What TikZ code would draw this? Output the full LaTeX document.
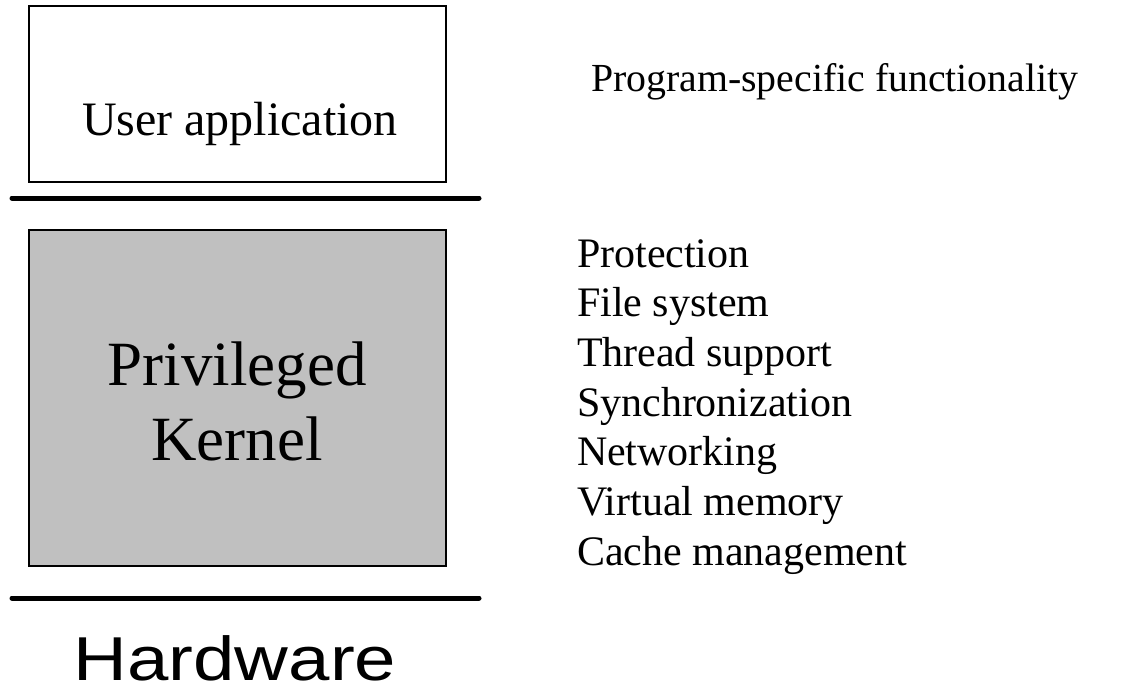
\documentclass[tikz,border=0pt]{standalone}
\usepackage{fontspec}
\setmainfont{Liberation Serif}
\newfontfamily\hwfont{Liberation Sans}
\begin{document}
\begin{tikzpicture}[x=1pt,y=-1pt,
  layerbox/.style={draw=black,line width=1.6pt,inner sep=0pt,outer sep=0pt},
  divider/.style={line width=5pt,line cap=round},
  caption/.style={inner sep=0pt,outer sep=0pt,anchor=base},
  label/.style={inner sep=0pt,outer sep=0pt,anchor=base west,font=\fontsize{42}{49.7}\selectfont}]
  \useasboundingbox (0,0) rectangle (1122,688);

  % layers
  \node[layerbox,fill=white,minimum width=417pt,minimum height=176pt] (user) at (237.5,94) {};
  \node[layerbox,fill={rgb,255:red,192;green,192;blue,192},minimum width=417pt,minimum height=336pt] (kernel) at (237.5,398) {};

  \node[caption,font=\fontsize{48}{50}\selectfont] (usertxt) at (240,135) {User application};
  \node[caption,font=\fontsize{63}{75}\selectfont] (priv) at (237,385) {Privileged};
  \node[caption,font=\fontsize{63}{75}\selectfont] (kern) at (237,460) {Kernel};

  % protection boundaries
  \draw[divider] (12,198) -- (479,198);
  \draw[divider] (12,598) -- (479,598);

  % "Hardware" has no descenders, so its box ends at the baseline
  \node[caption,text depth=0pt,font=\hwfont\fontsize{62}{70}\selectfont,xscale=1.2] (hw) at (235,680) {Hardware};

  % descriptions
  \node[label,font=\fontsize{39.8}{49.7}\selectfont] (prog) at (591,91) {Program-specific functionality};
  \foreach \t [count=\i from 0] in {Protection,File system,Thread support,Synchronization,Networking,Virtual memory,Cache management}
    \node[label] (f\i) at (577,267+\i*49.7) {\t};
\end{tikzpicture}
\end{document}
